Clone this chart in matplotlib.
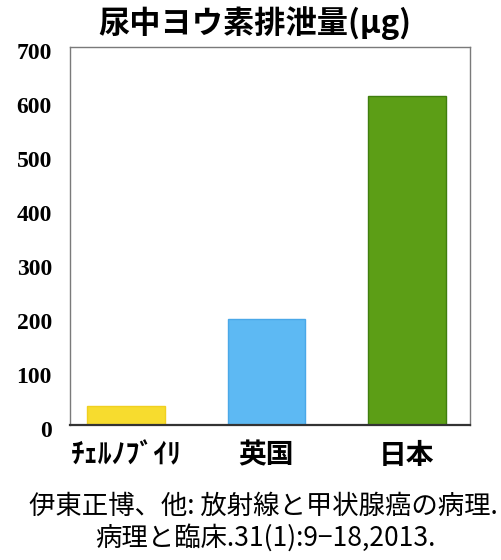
import matplotlib
matplotlib.use("Agg")
import matplotlib.pyplot as plt
from matplotlib.transforms import ScaledTranslation

categories = ["ﾁｪﾙﾉﾌﾞｲﾘ", "英国", "日本"]
values = [35, 197, 610]
yticks = [0, 100, 200, 300, 400, 500, 600, 700]
title = "尿中ヨウ素排泄量(μg)"
citation1 = "伊東正博、他: 放射線と甲状腺癌の病理."
citation2 = "病理と臨床.31(1):9−18,2013."

bar_colors = ["#f7dc2e", "#5db9f3", "#5c9e16"]
edge_colors = ["#f0d020", "#4aa8e8", "#3f7e0e"]

plt.rcParams['font.family'] = ['Noto Sans CJK JP', 'DejaVu Sans']

fig = plt.figure(figsize=(5.02, 5.60), dpi=100)
ax = fig.add_axes([70/502, 1-425/560, 400/502, 378/560])

x = list(range(len(categories)))
ax.bar(x, values, width=0.555, color=bar_colors, edgecolor=edge_colors, linewidth=1.0, zorder=2)

ax.set_xlim(-0.40, 2.45)
ax.set_ylim(0, 700)
ax.set_yticks(yticks)
ax.set_yticklabels([str(v) for v in yticks], family=['Liberation Serif'], fontweight='bold', fontsize=17)
ax.set_xticks(x)
ax.set_xticklabels(categories, fontweight='bold', fontsize=20)
ax.tick_params(axis='y', length=0, pad=13)
ax.tick_params(axis='x', length=0, pad=12)
shift = ScaledTranslation(0, -3/72, fig.dpi_scale_trans)
for lbl in ax.get_yticklabels():
    lbl.set_transform(lbl.get_transform() + shift)

for s in ['left', 'top', 'right']:
    ax.spines[s].set_color('#7a7a7a')
    ax.spines[s].set_linewidth(1.0)
ax.spines['bottom'].set_color('#333333')
ax.spines['bottom'].set_linewidth(1.6)

fig.text(255/502, 1-23/560, title, ha='center', va='center', fontsize=22.5, fontweight='bold')
fig.text(263/502, 1-506/560, citation1, ha='center', va='center', fontsize=19)
fig.text(265/502, 1-538/560, citation2, ha='center', va='center', fontsize=19)

fig.savefig("out.png", dpi=100)
